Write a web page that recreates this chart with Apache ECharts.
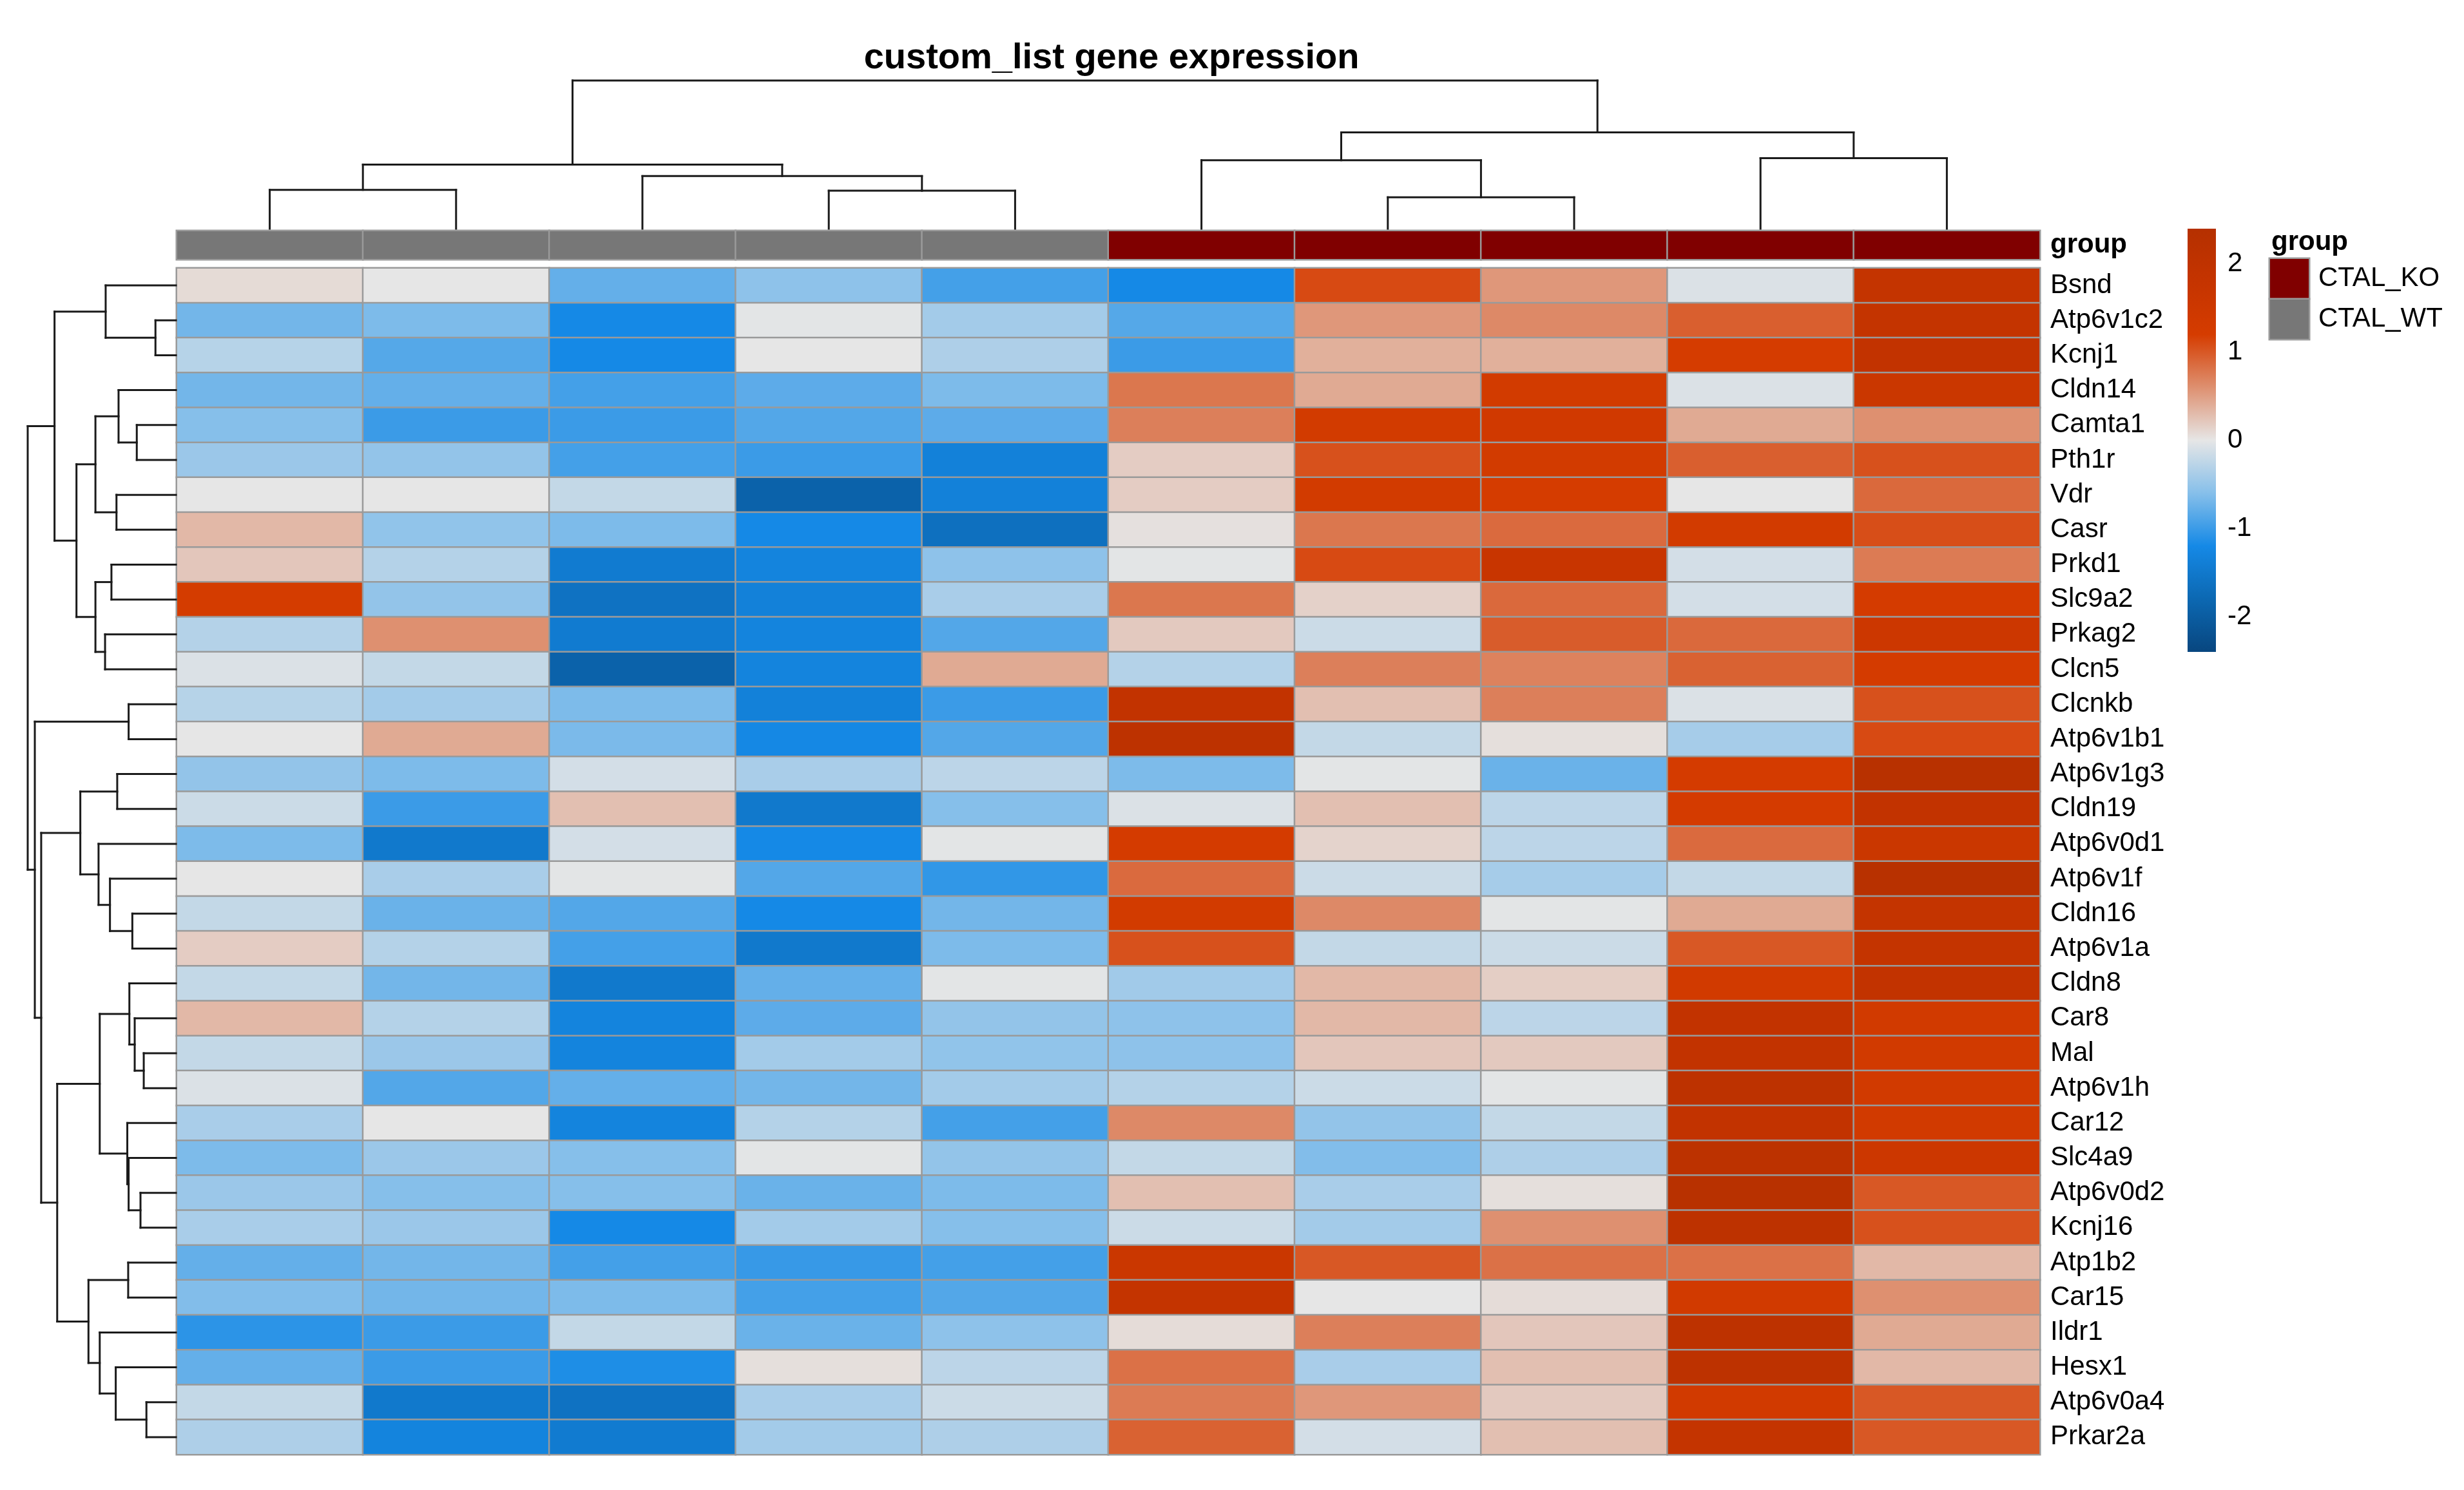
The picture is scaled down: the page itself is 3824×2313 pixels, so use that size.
<!DOCTYPE html>
<html>
<head>
<meta charset="utf-8">
<script src="https://cdn.jsdelivr.net/npm/echarts@6/dist/echarts.min.js"></script>
<style>
html,body{margin:0;padding:0;background:#fff;}
#chart{width:3824px;height:2313px;}
</style>
</head>
<body>
<div id="chart"></div>
<script>
// ---------------- data ----------------
const genes = ['Bsnd','Atp6v1c2','Kcnj1','Cldn14','Camta1','Pth1r','Vdr','Casr','Prkd1','Slc9a2','Prkag2','Clcn5','Clcnkb','Atp6v1b1','Atp6v1g3','Cldn19','Atp6v0d1','Atp6v1f','Cldn16','Atp6v1a','Cldn8','Car8','Mal','Atp6v1h','Car12','Slc4a9','Atp6v0d2','Kcnj16','Atp1b2','Car15','Ildr1','Hesx1','Atp6v0a4','Prkar2a'];
const samples = ['CTAL_WT_1','CTAL_WT_2','CTAL_WT_3','CTAL_WT_4','CTAL_WT_5','CTAL_KO_1','CTAL_KO_2','CTAL_KO_3','CTAL_KO_4','CTAL_KO_5'];
const sampleGroup = ['CTAL_WT','CTAL_WT','CTAL_WT','CTAL_WT','CTAL_WT','CTAL_KO','CTAL_KO','CTAL_KO','CTAL_KO','CTAL_KO'];
const groupLevels = ['CTAL_KO','CTAL_WT'];
const groupColors = ['#800000','#777777'];

// scaled expression per sample (row order = genes)
const wt1 = [0.08,-0.7,-0.3,-0.7,-0.6,-0.47,0,0.32,0.22,1.22,-0.31,-0.07,-0.3,0,-0.52,-0.17,-0.65,0,-0.22,0.18,-0.22,0.32,-0.22,-0.07,-0.38,-0.65,-0.47,-0.38,-0.78,-0.62,-1.08,-0.78,-0.22,-0.35];
const wt2 = [0,-0.65,-0.86,-0.78,-1.0,-0.52,0,-0.53,-0.31,-0.52,0.6,-0.22,-0.42,0.42,-0.65,-1.0,-1.5,-0.38,-0.75,-0.31,-0.7,-0.31,-0.47,-0.87,0,-0.47,-0.6,-0.47,-0.7,-0.7,-1.0,-1.0,-1.5,-1.3];
const wt3 = [-0.78,-1.2,-1.2,-0.95,-1.0,-0.95,-0.22,-0.65,-1.45,-1.62,-1.45,-1.9,-0.65,-0.66,-0.12,0.27,-0.12,-0.02,-0.87,-0.95,-1.5,-1.3,-1.3,-0.78,-1.3,-0.6,-0.6,-1.2,-0.95,-0.65,-0.22,-1.15,-1.62,-1.45];
const wt4 = [-0.55,-0.02,0,-0.82,-0.87,-1.0,-1.9,-1.2,-1.3,-1.35,-1.3,-1.3,-1.35,-1.22,-0.38,-1.5,-1.2,-0.87,-1.2,-1.5,-0.78,-0.82,-0.42,-0.7,-0.31,-0.02,-0.75,-0.42,-1.02,-0.95,-0.75,0.05,-0.38,-0.42];
const wt5 = [-0.95,-0.42,-0.35,-0.65,-0.82,-1.35,-1.35,-1.65,-0.55,-0.38,-0.87,0.42,-1.0,-0.87,-0.26,-0.6,-0.02,-1.05,-0.7,-0.65,-0.02,-0.52,-0.53,-0.42,-0.95,-0.52,-0.65,-0.6,-0.95,-0.87,-0.55,-0.26,-0.17,-0.35];
const ko1 = [-1.2,-0.86,-1.0,0.78,0.72,0.18,0.18,0.04,-0.02,0.78,0.2,-0.31,1.9,2.1,-0.65,-0.07,1.25,0.87,1.3,1.05,-0.43,-0.55,-0.55,-0.31,0.65,-0.22,0.27,-0.17,1.6,1.85,0.07,0.82,0.75,0.93];
const ko2 = [1.1,0.55,0.38,0.42,1.3,1.05,1.3,0.78,1.1,0.15,-0.17,0.72,0.27,-0.22,-0.02,0.27,0.13,-0.17,0.65,-0.22,0.32,0.32,0.22,-0.17,-0.52,-0.62,-0.38,-0.42,1.0,0,0.72,-0.38,0.55,-0.12];
const ko3 = [0.55,0.65,0.38,1.3,1.4,1.3,1.2,0.87,1.7,0.88,0.97,0.7,0.72,0.05,-0.75,-0.26,-0.26,-0.4,-0.02,-0.17,0.17,-0.26,0.2,-0.02,-0.22,-0.35,0.05,0.6,0.82,0.07,0.22,0.27,0.2,0.27];
const ko4 = [-0.07,0.95,1.2,-0.07,0.42,0.95,0,1.3,-0.12,-0.12,0.88,0.93,-0.07,-0.4,1.25,1.25,0.87,-0.22,0.42,1.0,1.35,1.9,1.9,2.1,1.9,2.15,2.3,2.1,0.82,1.35,2.1,2.1,1.35,1.85];
const ko5 = [1.85,1.85,1.9,1.6,0.6,1.05,0.88,1.07,0.75,1.25,1.55,1.25,1.05,1.1,2.3,1.9,1.6,2.3,1.85,1.85,1.9,1.35,1.35,1.35,1.35,1.55,1.0,1.05,0.32,0.6,0.42,0.32,1.0,1.0];
const sampleValues = [wt1,wt2,wt3,wt4,wt5,ko1,ko2,ko3,ko4,ko5];

// dendrograms: [height, left, right]; leaves are row/column indices
const rowTree = [10,
  [8.19, [4.74, 0, [1.38, 1, 2]],
         [6.71, [5.43, [3.87, 3, [2.64, 4, 5]], [4.01, 6, 7]],
                [5.43, [4.35, 8, 9], [4.78, 10, 11]]]],
  [9.52, [3.19, 12, 13],
         [9.09, [6.45, [3.96, 14, 15], [5.22, 16, [4.45, 17, [2.94, 18, 19]]]],
                [8.01, [5.14, [3.14, 20, [2.78, 21, [2.17, 22, 23]]], [3.28, 24, [3.19, 25, [2.39, 26, 27]]]],
                       [5.90, [3.22, 28, 29], [5.14, 30, [4.06, 31, [1.99, 32, 33]]]]]]]
];
const colTree = [10,
  [4.33, [2.62, 0, 1], [3.55, 2, [2.56, 3, 4]]],
  [6.50, [4.62, 5, [2.12, 6, 7]], [4.76, 8, 9]]
];

// colour scale (-2.4 .. 2.4)
const scaleMin = -2.4, scaleMax = 2.4;
const palette = ['#08467f','#0c68b2','#1589e6','#86bfea','#e6e6e6','#de9070','#d53c00','#c53400','#b53000'];

// ---------------- build ----------------
const heatData = [];
sampleValues.forEach((col, j) => col.forEach((v, i) => heatData.push([j, i, v])));
const annoData = sampleGroup.map((g, j) => [j, 0, groupLevels.indexOf(g)]);
const legendData = groupLevels.map((g, i) => [0, i, i]);

function layoutTree(node, segs) {
  if (typeof node === 'number') return { p: node + 0.5, h: 0 };
  const [h, l, r] = node;
  const a = layoutTree(l, segs), b = layoutTree(r, segs);
  segs.push([a.p, a.h, a.p, h]);
  segs.push([b.p, b.h, b.p, h]);
  segs.push([a.p, h, b.p, h]);
  return { p: (a.p + b.p) / 2, h: h };
}
const rowSegs = []; layoutTree(rowTree, rowSegs);
const colSegs = []; layoutTree(colTree, colSegs);
const rowSegData = rowSegs.map(s => [s[1], s[0], s[3], s[2]]); // [h,pos]
const colSegData = colSegs.map(s => [s[0], s[1], s[2], s[3]]); // [pos,h]

const FONT = 'Liberation Sans, Arial, Helvetica, sans-serif';
const L = 274, W = 2892;
const HT = 416, HH = 1842;

function segRender(params, api) {
  const p1 = api.coord([api.value(0), api.value(1)]);
  const p2 = api.coord([api.value(2), api.value(3)]);
  return { type: 'line', shape: { x1: p1[0], y1: p1[1], x2: p2[0], y2: p2[1] },
           style: { stroke: '#1a1a1a', lineWidth: 3, lineCap: 'square' } };
}
const hidden = { show: false };

const chart = echarts.init(document.getElementById('chart'), null, { renderer: 'canvas' });
chart.setOption({
  animation: false,
  backgroundColor: '#ffffff',
  textStyle: { fontFamily: FONT },
  title: [
    { text: 'custom_list gene expression', left: L + W / 2, top: 58, textAlign: 'center',
      textStyle: { fontSize: 56, fontWeight: 'bold', color: '#000', fontFamily: FONT } },
    { text: 'group', left: 3520, top: 350,
      textStyle: { fontSize: 42, fontWeight: 'bold', color: '#000', fontFamily: FONT } }
  ],
  grid: [
    { left: L, top: HT, width: W, height: HH },                 // 0 heatmap
    { left: L, top: 358, width: W, height: 45 },                // 1 annotation
    { left: L, top: 125, width: W, height: 230 },               // 2 column dendrogram
    { left: 43, top: HT, width: 230, height: HH },              // 3 row dendrogram
    { left: 3395, top: 355, width: 44, height: 657, show: true, borderWidth: 0,
      backgroundColor: new echarts.graphic.LinearGradient(0, 0, 0, 1,
        palette.slice().reverse().map((c, i) => ({ offset: i / (palette.length - 1), color: c }))) }, // 4 colorbar
    { left: 3522, top: 401, width: 62, height: 126 }            // 5 group legend
  ],
  xAxis: [
    { gridIndex: 0, type: 'category', data: samples, show: false },
    { gridIndex: 1, type: 'category', data: samples, show: false },
    { gridIndex: 2, type: 'value', min: 0, max: samples.length, show: false },
    { gridIndex: 3, type: 'value', min: 0, max: 10, inverse: true, show: false },
    { gridIndex: 4, type: 'value', min: 0, max: 1, show: false },
    { gridIndex: 5, type: 'category', data: ['group'], show: false }
  ],
  yAxis: [
    { gridIndex: 0, type: 'category', data: genes, inverse: true, position: 'right',
      axisLine: hidden, axisTick: hidden, splitLine: hidden,
      axisLabel: { interval: 0, fontSize: 42, color: '#000', margin: 16, fontFamily: FONT } },
    { gridIndex: 1, type: 'category', data: ['group'], position: 'right',
      axisLine: hidden, axisTick: hidden,
      axisLabel: { interval: 0, fontSize: 42, fontWeight: 'bold', color: '#000', margin: 16, fontFamily: FONT } },
    { gridIndex: 2, type: 'value', min: 0, max: 10, show: false },
    { gridIndex: 3, type: 'value', min: 0, max: genes.length, inverse: true, show: false },
    { gridIndex: 4, type: 'value', min: scaleMin, max: scaleMax, position: 'right',
      axisLine: hidden, axisTick: hidden, splitLine: hidden,
      axisLabel: { fontSize: 42, color: '#000', margin: 18, fontFamily: FONT,
        formatter: v => (Math.abs(v - Math.round(v)) < 1e-9 ? String(Math.round(v)) : '') } },
    { gridIndex: 5, type: 'category', data: groupLevels, inverse: true, position: 'right',
      axisLine: hidden, axisTick: hidden,
      axisLabel: { interval: 0, fontSize: 42, color: '#000', margin: 14, fontFamily: FONT } }
  ],
  visualMap: [
    { type: 'continuous', show: false, seriesIndex: 0, dimension: 2,
      min: scaleMin, max: scaleMax, inRange: { color: palette } },
    { type: 'piecewise', show: false, seriesIndex: [1, 2], dimension: 2,
      pieces: groupLevels.map((g, i) => ({ value: i, color: groupColors[i] })) }
  ],
  series: [
    { type: 'heatmap', xAxisIndex: 0, yAxisIndex: 0, data: heatData,
      itemStyle: { borderColor: '#9a9a9a', borderWidth: 2.5 }, emphasis: { disabled: true } },
    { type: 'heatmap', xAxisIndex: 1, yAxisIndex: 1, data: annoData,
      itemStyle: { borderColor: '#9a9a9a', borderWidth: 2.5 }, emphasis: { disabled: true } },
    { type: 'heatmap', xAxisIndex: 5, yAxisIndex: 5, data: legendData,
      itemStyle: { borderColor: '#9a9a9a', borderWidth: 2.5 }, emphasis: { disabled: true } },
    { type: 'custom', xAxisIndex: 2, yAxisIndex: 2, data: colSegData, renderItem: segRender, silent: true },
    { type: 'custom', xAxisIndex: 3, yAxisIndex: 3, data: rowSegData, renderItem: segRender, silent: true },
    { type: 'scatter', xAxisIndex: 4, yAxisIndex: 4, data: [], silent: true }
  ]
});
</script>
</body>
</html>
